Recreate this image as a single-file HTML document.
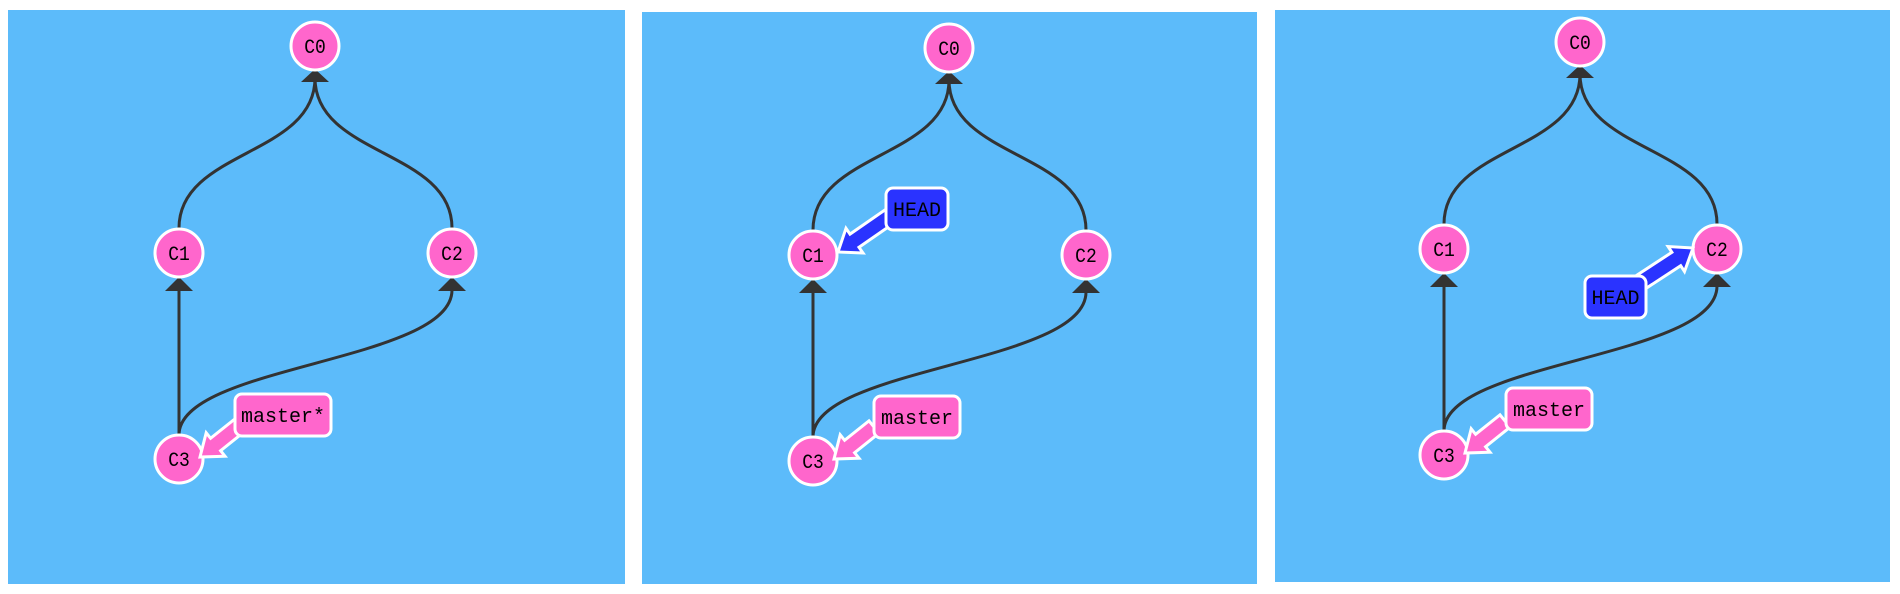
<!DOCTYPE html>
<html><head><style>
html,body{margin:0;padding:0;background:#fff;}
svg{display:block;}
text{font-family:"Liberation Mono","DejaVu Sans Mono",monospace;fill:#000;}
</style></head><body>
<svg width="1900" height="594" viewBox="0 0 1900 594" xmlns="http://www.w3.org/2000/svg">
<defs>
<g id="graph">
  <g fill="none" stroke="#333" stroke-width="3">
    <path d="M179,228 C179,150 315,156 315,78"/>
    <path d="M452,228 C452,150 315,156 315,78"/>
    <path d="M179,435 L179,290"/>
    <path d="M179,435 C179,365 452,362 452,290"/>
  </g>
  <g fill="#333">
    <polygon points="315,69 301,82 329,82"/>
    <polygon points="179,277 165,291 193,291"/>
    <polygon points="452,277 438,291 466,291"/>
  </g>
  <g fill="#ff66cc" stroke="#fff" stroke-width="3">
    <circle cx="315" cy="46" r="24"/>
    <circle cx="179" cy="253" r="24"/>
    <circle cx="452" cy="253" r="24"/>
    <circle cx="179" cy="459" r="24"/>
  </g>
  <g font-size="20" text-anchor="middle" transform="scale(0.9,1)">
    <text x="350" y="53">C0</text>
    <text x="198.9" y="260">C1</text>
    <text x="502.2" y="260">C2</text>
    <text x="198.9" y="466">C3</text>
  </g>
  <polygon points="245,431.2 220.6,450.7 225,456.2 200,457 206.2,432.8 210.6,438.3 235,418.8" fill="#ff66cc" stroke="#fff" stroke-width="3"/>
</g>
</defs>
<rect x="8" y="10" width="617" height="574" fill="#5cbbfa"/>
<rect x="642" y="12" width="615" height="572" fill="#5cbbfa"/>
<rect x="1275" y="10" width="615" height="572" fill="#5cbbfa"/>

<g>
  <use href="#graph"/>
  <rect x="235" y="394" width="96" height="42" rx="7" fill="#ff66cc" stroke="#fff" stroke-width="3"/>
  <text x="283" y="422" font-size="20" text-anchor="middle">master*</text>
</g>

<g transform="translate(634,2)">
  <use href="#graph"/>
  <rect x="240" y="394" width="86" height="42" rx="7" fill="#ff66cc" stroke="#fff" stroke-width="3"/>
  <text x="283" y="422" font-size="20" text-anchor="middle">master</text>
  <polygon points="266.5,216.6 225,245.3 229,251 204,250 212,226.3 216,232.1 257.5,203.4" fill="#2a33ff" stroke="#fff" stroke-width="3"/>
  <rect x="252" y="186" width="62" height="42" rx="7" fill="#2a33ff" stroke="#fff" stroke-width="3"/>
  <text x="283" y="214" font-size="20" text-anchor="middle">HEAD</text>
</g>

<g transform="translate(1265,-4)">
  <use href="#graph"/>
  <rect x="241" y="392" width="86" height="42" rx="7" fill="#ff66cc" stroke="#fff" stroke-width="3"/>
  <text x="284" y="420" font-size="20" text-anchor="middle">master</text>
  <polygon points="374.4,296.7 415.7,269.7 419.5,275.5 428,252 403.1,250.5 406.9,256.3 365.6,283.3" fill="#2a33ff" stroke="#fff" stroke-width="3"/>
  <rect x="320" y="280" width="61" height="42" rx="7" fill="#2a33ff" stroke="#fff" stroke-width="3"/>
  <text x="350.5" y="308" font-size="20" text-anchor="middle">HEAD</text>
</g>
</svg>
</body></html>
